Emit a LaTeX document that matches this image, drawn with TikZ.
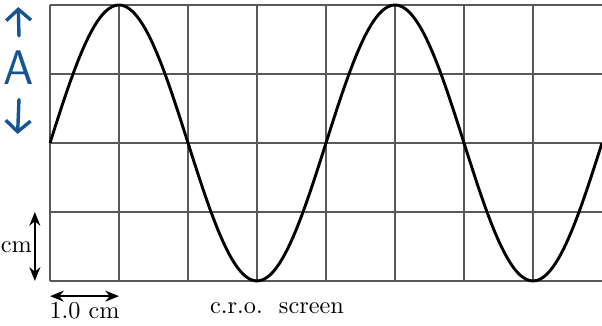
\documentclass[tikz,border=0pt]{standalone}
\usepackage{tikz}
\usetikzlibrary{arrows.meta,positioning,calc}
\definecolor{penblue}{RGB}{22,84,148}

\begin{document}
\begin{tikzpicture}[
  gridline/.style={draw=black!65, line width=0.7pt},
  trace/.style={line width=1.2pt, black},
  dim/.style={{Stealth[length=2mm,width=1.6mm]}-{Stealth[length=2mm,width=1.6mm]}, semithick},
  pen/.style={penblue, line width=1.4pt, line cap=round,
    -{Straight Barb[length=1.6mm, width=3.6mm, line width=1.4pt]}},
  caption/.style={font=\normalsize, inner sep=1pt}
]
  \useasboundingbox (-0.725,-0.652) rectangle (8,4.072);

  % Screen grid
  \foreach \x in {0,...,7}
    \draw[gridline] (\x,0) -- (\x,4);
  \foreach \y in {0,...,4}
    \draw[gridline] (0,\y) -- (8,\y);

  % Trace
  \draw[trace, domain=0:8, samples=161, smooth] plot (\x, {2+2*sin(90*\x)});

  % Amplitude mark (handwritten)
  \node[penblue, font=\fontsize{20}{24}\selectfont\sffamily, inner sep=0pt]
    (amp) at (-0.45,3.09) {A};
  \coordinate (uptip) at (-0.46,3.97);
  \coordinate (downtip) at (-0.47,2.13);
  \draw[pen] ([yshift=6pt]amp.north) -- (uptip);
  \draw[pen] ([yshift=-6pt]amp.south) -- (downtip);

  % Scale arrows
  \coordinate (vlow) at (-0.22,0);
  \coordinate (vhigh) at (-0.22,1);
  \draw[dim] (vlow) -- (vhigh);
  \node[caption, anchor=west, inner sep=0pt] (vlabel) at (-0.72,0.49) {cm};

  \coordinate (hleft) at (0,-0.22);
  \coordinate (hright) at (1,-0.22);
  \draw[dim] (hleft) -- (hright);
  \node[caption, below=0.5mm of $(hleft)!0.5!(hright)$] (hlabel) {1.0 cm};

  % Labels
  \node[caption] (screen) at (3.29,-0.39) {c.r.o.\ \ screen};
\end{tikzpicture}
\end{document}
